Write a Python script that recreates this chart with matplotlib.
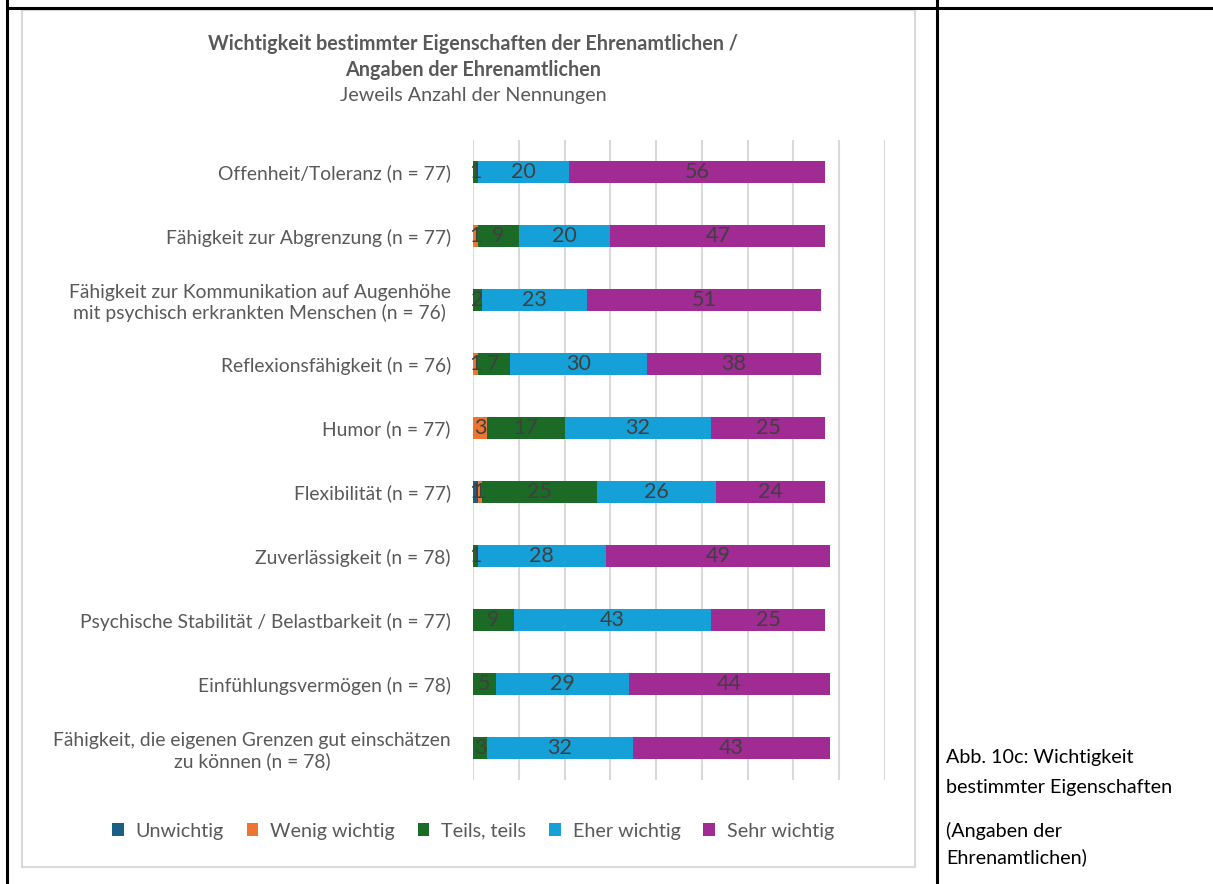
import matplotlib
matplotlib.use("Agg")
import matplotlib.pyplot as plt
from matplotlib.patches import Rectangle
from matplotlib.lines import Line2D
import numpy as np

plt.rcParams["font.family"] = ["Lato", "DejaVu Sans"]

# ── Daten ────────────────────────────────────────────────────────────────────
LABELS = [
    "Offenheit/Toleranz (n = 77)",
    "Fähigkeit zur Abgrenzung (n = 77)",
    "Fähigkeit zur Kommunikation auf Augenhöhe\nmit psychisch erkrankten Menschen (n = 76)",
    "Reflexionsfähigkeit (n = 76)",
    "Humor (n = 77)",
    "Flexibilität (n = 77)",
    "Zuverlässigkeit (n = 78)",
    "Psychische Stabilität / Belastbarkeit (n = 77)",
    "Einfühlungsvermögen (n = 78)",
    "Fähigkeit, die eigenen Grenzen gut einschätzen\nzu können (n = 78)",
]
SERIES = ["Unwichtig", "Wenig wichtig", "Teils, teils", "Eher wichtig", "Sehr wichtig"]
UNWICHTIG = [0, 0, 0, 0, 0, 1, 0, 0, 0, 0]
WENIG = [0, 1, 0, 1, 3, 1, 0, 0, 0, 0]
TEILS = [1, 9, 2, 7, 17, 25, 1, 9, 5, 3]
EHER = [20, 20, 23, 30, 32, 26, 28, 43, 29, 32]
SEHR = [56, 47, 51, 38, 25, 24, 49, 25, 44, 43]
COLORS = ["#1b5e86", "#ec7532", "#1b6b26", "#15a0d7", "#9f2b93"]

W, H = 1213, 884
fig = plt.figure(figsize=(W / 100, H / 100), dpi=100)


def fx(px):
    return px / W


def fy(py):
    return 1 - py / H


# Tabellenrahmen
for (x0, y0, x1, y1) in [(7, 8, W, 8), (7, 0, 7, H), (937, 0, 937, H)]:
    fig.add_artist(Line2D([fx(x0), fx(x1)], [fy(y0), fy(y1)], color="black", lw=2.2,
                          transform=fig.transFigure))
# Diagrammrahmen
fig.add_artist(Rectangle((fx(22), fy(867)), fx(915) - fx(22), fy(10) - fy(867),
                         transform=fig.transFigure, fill=False, edgecolor="#d9d9d9", lw=1.5))

ax = fig.add_axes([fx(473), fy(780), fx(885) - fx(473), fy(140) - fy(780)])
data = [UNWICHTIG, WENIG, TEILS, EHER, SEHR]
y = np.arange(len(LABELS))
left = np.zeros(len(LABELS))
for name, vals, col in zip(SERIES, data, COLORS):
    vals = np.array(vals, dtype=float)
    ax.barh(y, vals, left=left, height=0.35, color=col, label=name, zorder=3)
    for yi, (l, v) in enumerate(zip(left, vals)):
        if v > 0:
            ax.text(l + v / 2, yi, f"{int(v)}", ha="center", va="center",
                    fontsize=15.5, color="#404040", zorder=4)
    left += vals

ax.set_xlim(0, 90)
ax.set_ylim(len(LABELS) - 0.5, -0.5)
ax.set_xticks(np.arange(0, 91, 10))
ax.set_xticklabels([])
ax.tick_params(length=0)
ax.set_yticks(y)
ax.set_yticklabels(LABELS, fontsize=13.9, color="#595959", multialignment="center")
ax.tick_params(axis="y", pad=16)
ax.grid(axis="x", color="#d9d9d9", lw=1.5, zorder=0)
for s in ax.spines.values():
    s.set_visible(False)

fig.text(fx(473), fy(44), "Wichtigkeit bestimmter Eigenschaften der Ehrenamtlichen /",
         ha="center", va="center", fontsize=14.2, fontweight="bold", color="#595959")
fig.text(fx(473), fy(70), "Angaben der Ehrenamtlichen",
         ha="center", va="center", fontsize=14.2, fontweight="bold", color="#595959")
fig.text(fx(473), fy(96), "Jeweils Anzahl der Nennungen",
         ha="center", va="center", fontsize=14.2, color="#595959")

fig.legend(loc="center", bbox_to_anchor=(fx(473), fy(831)), ncol=5, frameon=False,
           fontsize=14.2, labelcolor="#595959", handlelength=0.6, handleheight=0.6,
           columnspacing=1.15, handletextpad=0.6)

for txt, py in [("Abb. 10c: Wichtigkeit", 757), ("bestimmter Eigenschaften", 787),
                ("(Angaben der", 831), ("Ehrenamtlichen)", 857)]:
    fig.text(fx(946), fy(py), txt, ha="left", va="center", fontsize=14.2, color="black")

fig.savefig("out.png", dpi=100)
